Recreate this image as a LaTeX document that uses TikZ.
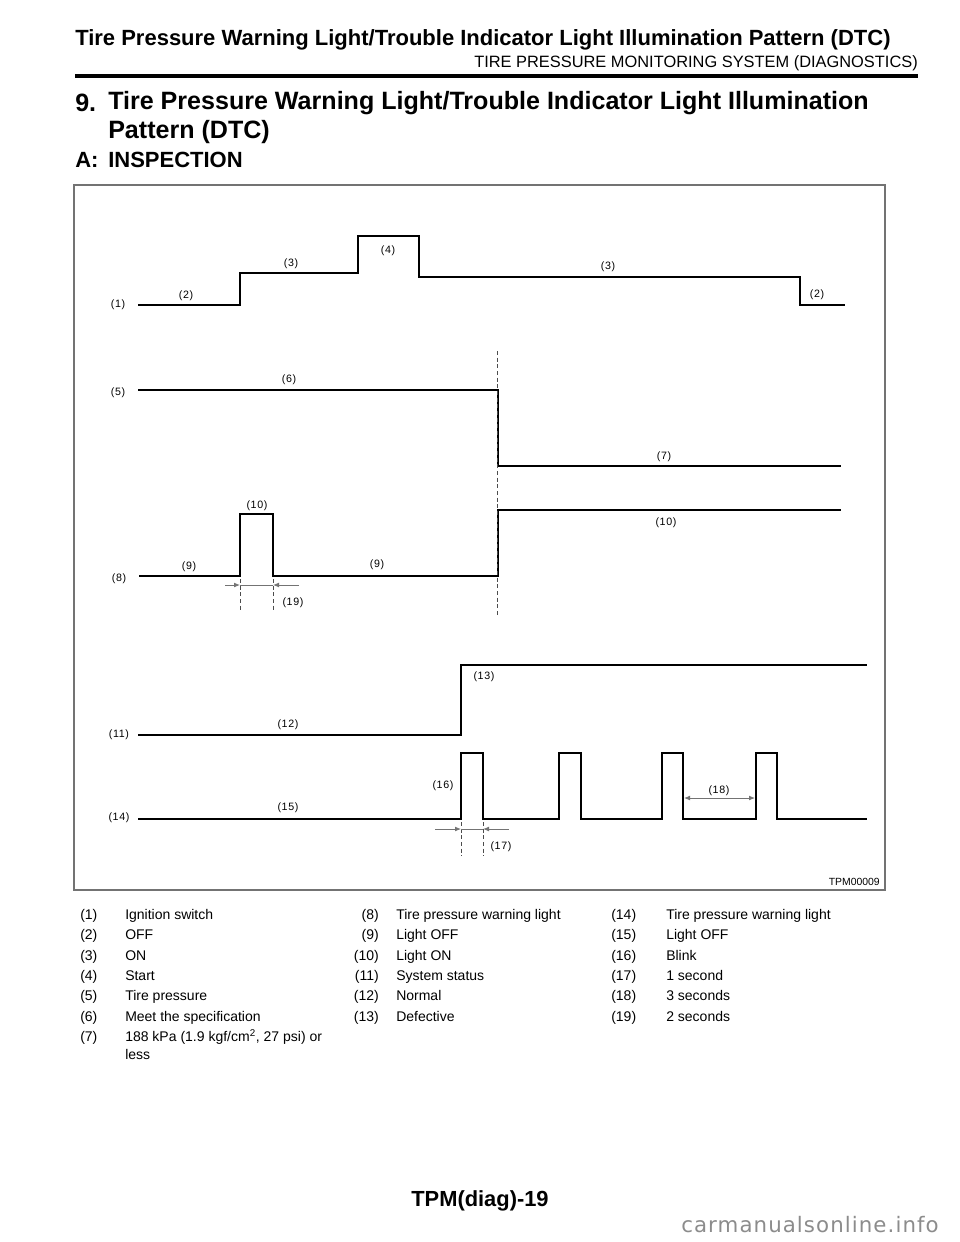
\documentclass[tikz,border=0pt]{standalone}
\usepackage{fontspec}
\setmainfont{Liberation Sans}
\newfontfamily\tagfont[LetterSpace=6]{Liberation Sans}
\newfontfamily\markfont[LetterSpace=5]{DejaVu Sans}
\usetikzlibrary{calc, arrows.meta, positioning}

\tikzset{
    sig/.style={line width=1.6pt, line join=miter},
    tag/.style={font=\tagfont\fontsize{8}{9}\selectfont, inner sep=0pt},
    guide/.style={dashed, dash pattern=on 3pt off 2pt, line width=0.6pt, black!70},
    dimline/.style={line width=0.6pt, black!55},
    dimtip/.style={dimline, -{Latex[length=4.5pt,width=3.6pt]}},
    legend/.style={font=\fontsize{10.5}{12}\selectfont, inner sep=0pt, anchor=base west},
}

\begin{document}
\begin{tikzpicture}[x=0.75pt, y=-0.75pt]
    \useasboundingbox (0,0) rectangle (960,1242);

    % Page header
    \node[anchor=west, inner sep=0pt, font=\bfseries\fontsize{16.5}{18}\selectfont] (title) at (75,40)
        {Tire Pressure Warning Light/Trouble Indicator Light Illumination Pattern (DTC)};
    \node[anchor=east, inner sep=0pt, font=\fontsize{12.3}{14}\selectfont] (subtitle) at (918,63)
        {TIRE PRESSURE MONITORING SYSTEM (DIAGNOSTICS)};
    \draw[line width=2.6pt] (75,76) -- (918,76);

    % Section heading
    \node[anchor=west, inner sep=0pt, font=\bfseries\fontsize{18.8}{21}\selectfont] (secnum) at (75,103) {9.};
    \node[anchor=west, inner sep=0pt, font=\bfseries\fontsize{18.8}{21}\selectfont] (sec) at (108,103)
        {Tire Pressure Warning Light/Trouble Indicator Light Illumination};
    \node[anchor=west, inner sep=0pt, font=\bfseries\fontsize{18.8}{21}\selectfont] (sec2) at (108,132)
        {Pattern (DTC)};
    \node[anchor=west, inner sep=0pt, font=\bfseries\fontsize{16.5}{18}\selectfont] (subnum) at (75,160) {A:};
    \node[anchor=west, inner sep=0pt, font=\bfseries\fontsize{16.5}{18}\selectfont] (subsec) at (108,160) {INSPECTION};

    % Figure frame
    \draw[black!55, line width=1.1pt] (74,185) rectangle (885,890);
    \node[anchor=east, inner sep=0pt, font=\fontsize{7.8}{9}\selectfont] (figid) at (880,882) {TPM00009};

    % Ignition switch
    \draw[sig] (138,305) -- (240,305) -- (240,273) -- (358,273) -- (358,236)
        -- (419,236) -- (419,277) -- (800,277) -- (800,305) -- (845,305);

    % Tire pressure
    \draw[sig] (138,390) -- (498,390) -- (498,466) -- (841,466);

    % Tire pressure warning light
    \draw[sig] (139,576) -- (240,576) -- (240,514) -- (273,514) -- (273,576)
        -- (498,576) -- (498,510) -- (841,510);

    % System status
    \draw[sig] (138,735) -- (461,735) -- (461,665) -- (867,665);

    % Tire pressure warning light (blink)
    \draw[sig] (138,819) \foreach \a/\b in {461/483, 559/581, 662/683, 756/777}{
        -- (\a,819) -- (\a,753) -- (\b,753) -- (\b,819)} -- (867,819);

    % Guide lines
    \draw[guide] (497,351) -- (497,617);
    \foreach \x in {240,273}{
        \draw[guide] (\x,579) -- (\x,611);
    }
    \foreach \x in {461,483}{
        \draw[guide] (\x,822) -- (\x,856);
    }

    % Dimension 2 seconds
    \coordinate (w19l) at (225,585);
    \coordinate (p19l) at (240,585);
    \coordinate (p19r) at (273,585);
    \coordinate (w19r) at (299,585);
    \draw[dimtip] (w19l) -- (p19l);
    \draw[dimline] (p19l) -- (p19r);
    \draw[dimtip] (w19r) -- (p19r);

    % Dimension 1 second
    \coordinate (w17l) at (435,829);
    \coordinate (p17l) at (461,829);
    \coordinate (p17r) at (483,829);
    \coordinate (w17r) at (509,829);
    \draw[dimtip] (w17l) -- (p17l);
    \draw[dimline] (p17l) -- (p17r);
    \draw[dimtip] (w17r) -- (p17r);

    % Dimension 3 seconds
    \coordinate (p18l) at (684,798);
    \coordinate (p18r) at (755,798);
    \draw[dimline, {Latex[length=4.5pt,width=3.6pt]}-{Latex[length=4.5pt,width=3.6pt]}] (p18l) -- (p18r);

    % Callout numbers
    \foreach \pos/\txt [count=\k] in {
        {118,305}/{(1)}, {186,296}/{(2)}, {291,264}/{(3)}, {388,251}/{(4)},
        {608,267}/{(3)}, {817,295}/{(2)},
        {118,393}/{(5)}, {289,380}/{(6)}, {664,457}/{(7)},
        {119,579}/{(8)}, {189,567}/{(9)}, {257,506}/{(10)}, {377,565}/{(9)},
        {666,523}/{(10)}, {293,603}/{(19)},
        {119,735}/{(11)}, {288,725}/{(12)}, {484,677}/{(13)},
        {119,818}/{(14)}, {288,808}/{(15)}, {443,786}/{(16)}, {501,847}/{(17)},
        {719,791}/{(18)}}{
        \node[tag] (tag\k) at (\pos) {\txt};
    }

    % Legend, first column
    \foreach \txt [count=\k] in {Ignition switch, OFF, ON, Start, Tire pressure,
        Meet the specification}{
        \node[legend] (ln\k) at (80,{919.5+(\k-1)*20.3}) {(\k)};
        \node[legend] (lt\k) at (125,{919.5+(\k-1)*20.3}) {\txt};
    }
    \node[legend] (ln7) at (80,1041.5) {(7)};
    \node[legend] (lt7) at (125,1041.5) {188 kPa (1.9 kgf/cm\textsuperscript{2}, 27 psi) or};
    \node[legend] (lt7b) at (125,1059.5) {less};

    % Legend, second column
    \foreach \n/\txt [count=\k] in {8/Tire pressure warning light, 9/Light OFF,
        10/Light ON, 11/System status, 12/Normal, 13/Defective}{
        \node[legend, anchor=base east] (ln\n) at (379,{919.5+(\k-1)*20.3}) {(\n)};
        \node[legend] (lt\n) at (396,{919.5+(\k-1)*20.3}) {\txt};
    }

    % Legend, third column
    \foreach \n/\txt [count=\k] in {14/Tire pressure warning light, 15/Light OFF,
        16/Blink, 17/1 second, 18/3 seconds, 19/2 seconds}{
        \node[legend] (ln\n) at (611,{919.5+(\k-1)*20.3}) {(\n)};
        \node[legend] (lt\n) at (666,{919.5+(\k-1)*20.3}) {\txt};
    }

    % Page footer
    \node[inner sep=0pt, font=\bfseries\fontsize{16.4}{18}\selectfont] (footer) at (480,1201) {TPM(diag)-19};
    \node[anchor=west, inner sep=0pt, text=black!45, font=\markfont\fontsize{16}{18}\selectfont] (mark) at (681,1225)
        {carmanualsonline.info};
\end{tikzpicture}
\end{document}
